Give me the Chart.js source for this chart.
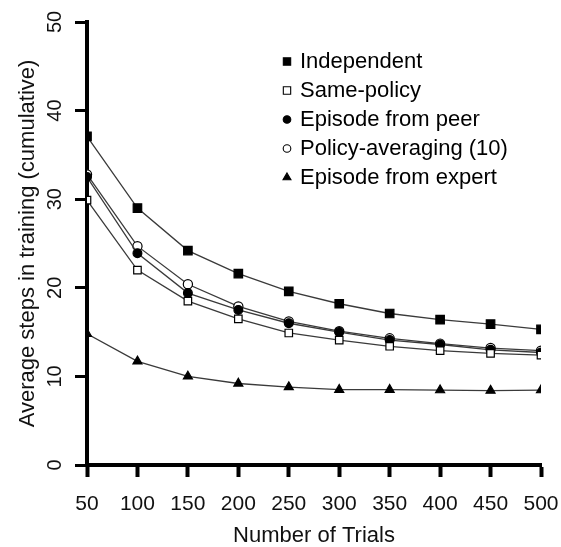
<!DOCTYPE html>
<html>
<head>
<meta charset="utf-8">
<script src="https://cdn.jsdelivr.net/npm/chart.js@4/dist/chart.umd.min.js"></script>
<style>
  html, body { margin: 0; padding: 0; background: #fff; }
  canvas { display: block; }
</style>
</head>
<body>
<canvas id="c" width="561" height="547"></canvas>
<script>
// Number of training trials
const trials = [50, 100, 150, 200, 250, 300, 350, 400, 450, 500];

// Average steps in training (cumulative) per method
const independent      = [37.1, 29.0, 24.2, 21.6, 19.6, 18.2, 17.1, 16.4, 15.9, 15.3];
const samePolicy       = [29.9, 22.0, 18.5, 16.5, 14.9, 14.1, 13.4, 12.9, 12.6, 12.4];
const episodeFromPeer  = [32.5, 23.9, 19.4, 17.5, 16.0, 15.0, 14.1, 13.6, 13.0, 12.7];
const policyAveraging  = [32.8, 24.7, 20.4, 17.9, 16.2, 15.1, 14.3, 13.7, 13.2, 12.9];
const episodeFromExpert= [14.8, 11.7, 10.0, 9.2, 8.8, 8.5, 8.5, 8.45, 8.4, 8.45];

const seriesNames = ['Independent', 'Same-policy', 'Episode from peer', 'Policy-averaging (10)', 'Episode from expert'];
const yTicks = [0, 10, 20, 30, 40, 50];

const FONT = '"Liberation Sans", Arial, Helvetica, sans-serif';
const LINE = '#3a3a3a';

function pts(values) {
  return trials.map((t, i) => ({ x: t, y: values[i] }));
}

const styles = [
  { pointStyle: 'rect',     radius: 6.0, fill: '#000' },
  { pointStyle: 'rect',     radius: 5.3, fill: '#fff' },
  { pointStyle: 'circle',   radius: 4.4, fill: '#000' },
  { pointStyle: 'circle',   radius: 4.6, fill: '#fff' },
  { pointStyle: 'triangle', radius: 5.2, fill: '#000' }
];
const seriesValues = [independent, samePolicy, episodeFromPeer, policyAveraging, episodeFromExpert];

const datasets = seriesValues.map((vals, i) => ({
  label: seriesNames[i],
  data: pts(vals),
  borderColor: LINE,
  borderWidth: 1.3,
  tension: 0,
  fill: false,
  pointStyle: styles[i].pointStyle,
  pointRadius: styles[i].radius,
  pointBackgroundColor: styles[i].fill,
  pointBorderColor: '#000',
  pointBorderWidth: 1.2,
  order: i
}));

// Legend drawn inside the plot area, top right
const insideLegend = {
  id: 'insideLegend',
  afterDatasetsDraw(chart) {
    const ctx = chart.ctx;
    const x0 = 287, y0 = 61.5, step = 29;
    ctx.save();
    chart.data.datasets.forEach((ds, i) => {
      const y = y0 + i * step;
      const s = styles[i];
      const r = s.pointStyle === 'triangle' ? 4.6 : (s.pointStyle === 'rect' ? 5.2 : 3.8);
      ctx.fillStyle = s.fill;
      ctx.strokeStyle = '#000';
      ctx.lineWidth = 1.1;
      if (Chart.helpers && Chart.helpers.drawPoint) {
        Chart.helpers.drawPoint(ctx, { pointStyle: s.pointStyle, radius: r, borderWidth: 1.1, rotation: 0 }, x0, y);
      }
      ctx.fillStyle = '#000';
      ctx.font = '22px ' + FONT;
      ctx.textAlign = 'left';
      ctx.textBaseline = 'middle';
      ctx.fillText(ds.label, x0 + 13, y);
    });
    ctx.restore();
  }
};

new Chart(document.getElementById('c'), {
  type: 'line',
  data: { datasets },
  options: {
    responsive: false,
    animation: false,
    events: [],
    layout: { padding: { left: 0, top: 22, right: 20, bottom: 0 } },
    plugins: { legend: { display: false }, tooltip: { enabled: false } },
    scales: {
      x: {
        type: 'linear',
        min: 50, max: 500,
        afterBuildTicks(scale) { scale.ticks = trials.map(v => ({ value: v })); },
        afterFit(scale) { scale.height = 82; scale.paddingLeft = 0; scale.paddingRight = 0; },
        border: { display: true, color: '#000', width: 4 },
        grid: { drawOnChartArea: false, drawTicks: true, tickLength: 12, tickWidth: 4, tickColor: '#000' },
        ticks: { color: '#111', font: { family: FONT, size: 21 }, padding: 15, maxRotation: 0, autoSkip: false },
        title: { display: true, text: 'Number of Trials', color: '#111',
                 font: { family: FONT, size: 22, lineHeight: 1.1 }, padding: { top: 0, bottom: -1 } }
      },
      y: {
        type: 'linear',
        min: 0, max: 50,
        afterBuildTicks(scale) { scale.ticks = yTicks.map(v => ({ value: v })); },
        afterFit(scale) { scale.width = 87; scale.paddingTop = 0; scale.paddingBottom = 0; },
        border: { display: true, color: '#000', width: 4 },
        grid: { drawOnChartArea: false, drawTicks: true, tickLength: 12, tickWidth: 3, tickColor: '#000' },
        ticks: { color: '#111', font: { family: FONT, size: 20 }, padding: 8,
                 minRotation: 90, maxRotation: 90, crossAlign: 'center' },
        title: { display: true, text: 'Average steps in training (cumulative)', color: '#111',
                 font: { family: FONT, size: 22, lineHeight: 1.1 }, padding: { top: 16, bottom: 0 } }
      }
    }
  },
  plugins: [insideLegend]
});
</script>
</body>
</html>
